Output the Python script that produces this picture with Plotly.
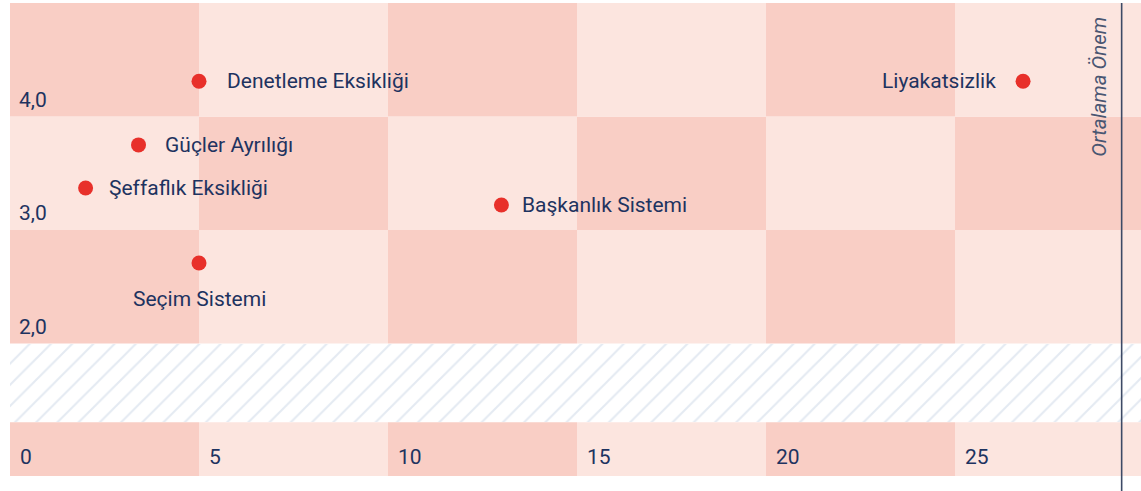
import plotly.graph_objects as go

# Issue scores: mention count (x) vs. average importance (y)
issues = ["Denetleme Eksikliği", "Liyakatsizlik", "Güçler Ayrılığı",
          "Şeffaflık Eksikliği", "Başkanlık Sistemi", "Seçim Sistemi"]
mentions = [5, 26.8, 3.4, 2, 13, 5]
importance = [4.31, 4.31, 3.75, 3.37, 3.22, 2.71]

x_ticks = [0, 5, 10, 15, 20, 25]
y_ticks = [2, 3, 4]

# label placement relative to each point: (side, pixel offset)
label_place = [("right", 28), ("left", 27), ("right", 26),
               ("right", 23), ("right", 21), ("below", 36)]

DARK = "#f9cec5"
LIGHT = "#fce5df"
NAVY = "#1e3360"
RED = "#e8302a"
FONT = "Roboto"

X_MAX = 29.92
Y_MIN, Y_MAX = 0.833, 5.0
HATCH_TOP = 2.0
HATCH_BOTTOM = 1.307
STEP_X = x_ticks[1] - x_ticks[0]

fig = go.Figure()

# checkerboard background behind the plotted band and the tick band
shapes = []
bands = [(y, y + 1) for y in y_ticks] + [(Y_MIN, HATCH_BOTTOM)]
for r, (y0, y1) in enumerate(bands):
    parity = r if r < len(y_ticks) else 0
    for c, x0 in enumerate(x_ticks):
        shapes.append(dict(
            type="rect", xref="x", yref="y", layer="below",
            x0=x0, x1=x0 + STEP_X, y0=y0, y1=y1,
            fillcolor=DARK if (c + parity) % 2 == 0 else LIGHT,
            line=dict(width=0),
        ))

# right-hand axis rule
shapes.append(dict(
    type="line", xref="paper", yref="paper",
    x0=0.9829, x1=0.9829, y0=-0.04, y1=1.0,
    line=dict(color="#3d4a66", width=1.6),
))

# hatched gap between the data area and the tick band
fig.add_trace(go.Bar(
    x=[X_MAX / 2], y=[HATCH_TOP - HATCH_BOTTOM], base=[HATCH_BOTTOM],
    width=[X_MAX + 2],
    marker=dict(color="white", line=dict(width=0),
                pattern=dict(shape="/", fgcolor="#c9d6e6", bgcolor="white",
                             size=15, solidity=0.14)),
    hoverinfo="skip", showlegend=False,
))

fig.add_trace(go.Scatter(
    x=mentions, y=importance, mode="markers",
    marker=dict(color=RED, size=15, line=dict(width=0)),
    hovertext=issues, hoverinfo="text", showlegend=False,
))

annotations = []
for name, x, y, (side, off) in zip(issues, mentions, importance, label_place):
    a = dict(x=x, y=y, xref="x", yref="y", text=name, showarrow=False,
             font=dict(family=FONT, size=21, color=NAVY))
    if side == "right":
        a.update(xanchor="left", yanchor="middle", xshift=off - 2)
    elif side == "left":
        a.update(xanchor="right", yanchor="middle", xshift=-(off - 2))
    else:
        a.update(xanchor="center", yanchor="middle", yshift=-off)
    annotations.append(a)

annotations.append(dict(
    x=0.9829, y=1.0, xref="paper", yref="paper", xanchor="right",
    yanchor="top", xshift=-9, yshift=-12, textangle=-90, showarrow=False,
    text="Ortalama Önem",
    font=dict(family=FONT, size=20.5, color="#4a5672", style="italic"),
))

fig.update_layout(
    width=1141, height=491,
    margin=dict(l=10, r=0, t=3, b=15),
    paper_bgcolor="white", plot_bgcolor="white",
    separators=",.",
    shapes=shapes, annotations=annotations,
    barmode="overlay", bargap=0,
    xaxis=dict(range=[0, X_MAX], tickvals=x_ticks, showgrid=False,
               zeroline=False, showline=False, ticks="",
               ticklabelposition="inside right", ticklabelstandoff=2,
               ticklabelshift=10, ticklabeloverflow="allow",
               tickfont=dict(family=FONT, size=21, color=NAVY)),
    yaxis=dict(range=[Y_MIN, Y_MAX], tickvals=y_ticks, tickformat=".1f",
               showgrid=False, zeroline=False, showline=False, ticks="",
               ticklabelposition="inside", ticklabelstandoff=6,
               ticklabelshift=-17, ticklabeloverflow="allow",
               tickfont=dict(family=FONT, size=21, color=NAVY)),
)

fig.write_html("out.html")
